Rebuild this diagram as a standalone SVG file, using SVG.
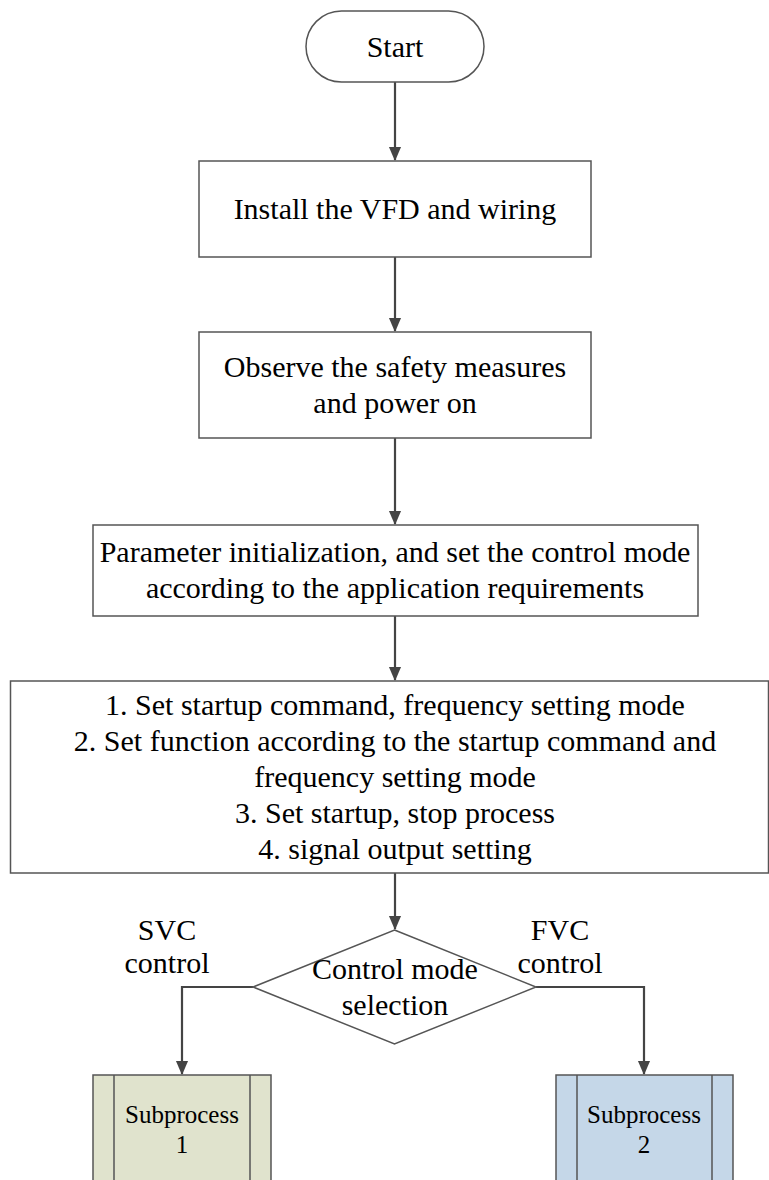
<svg xmlns="http://www.w3.org/2000/svg" width="769" height="1180" viewBox="0 0 769 1180">
  <style>
    .box { fill: #ffffff; stroke: #555555; stroke-width: 1.5; }
    .t { font-family: "Liberation Serif", "Times New Roman", serif; font-size: 30px; fill: #000000; text-anchor: middle; }
    .ts { font-family: "Liberation Serif", "Times New Roman", serif; font-size: 25px; fill: #000000; text-anchor: middle; }
    .conn { fill: none; stroke: #444444; stroke-width: 2.2; }
    .sub1 { fill: #e0e3cd; stroke: #555555; stroke-width: 1.5; }
    .sub2 { fill: #c5d7e8; stroke: #555555; stroke-width: 1.5; }
    .inner { stroke: #555555; stroke-width: 1.5; }
  </style>
  <defs>
    <marker id="arr" markerWidth="14" markerHeight="16" viewBox="0 0 16 14" refX="15" refY="7" orient="auto" markerUnits="userSpaceOnUse">
      <path d="M0,0 L16,7 L0,14 Z" fill="#444444"/>
    </marker>
  </defs>

  <g id="connectors">
    <path class="conn" d="M395,82 L395,160" marker-end="url(#arr)"/>
    <path class="conn" d="M395,257 L395,331" marker-end="url(#arr)"/>
    <path class="conn" d="M395,438 L395,524" marker-end="url(#arr)"/>
    <path class="conn" d="M395,616 L395,680" marker-end="url(#arr)"/>
    <path class="conn" d="M395,873 L395,929" marker-end="url(#arr)"/>
    <path class="conn" d="M253,987 L182,987 L182,1074" marker-end="url(#arr)"/>
    <path class="conn" d="M536,987 L644,987 L644,1074" marker-end="url(#arr)"/>
  </g>

  <g id="start">
    <rect class="box" x="306" y="11" width="178" height="71" rx="35.5" ry="35.5"/>
    <text class="t" x="395" y="57">Start</text>
  </g>

  <g id="install">
    <rect class="box" x="199" y="161" width="392" height="96"/>
    <text class="t" x="395" y="219">Install the VFD and wiring</text>
  </g>

  <g id="observe">
    <rect class="box" x="199" y="332" width="392" height="106"/>
    <text class="t" x="395" y="377">Observe the safety measures</text>
    <text class="t" x="395" y="413">and power on</text>
  </g>

  <g id="param">
    <rect class="box" x="93" y="525" width="605" height="91"/>
    <text class="t" x="395" y="562">Parameter initialization, and set the control mode</text>
    <text class="t" x="395" y="598">according to the application requirements</text>
  </g>

  <g id="settings">
    <rect class="box" x="10.5" y="681" width="758" height="192"/>
    <text class="t" x="395" y="715">1. Set startup command, frequency setting mode</text>
    <text class="t" x="395" y="751">2. Set function according to the startup command and</text>
    <text class="t" x="395" y="787">frequency setting mode</text>
    <text class="t" x="395" y="823">3. Set startup, stop process</text>
    <text class="t" x="395" y="859">4. signal output setting</text>
  </g>

  <g id="decision">
    <polygon class="box" points="394.5,930 536,987 394.5,1044 253,987"/>
    <text class="t" x="395" y="979">Control mode</text>
    <text class="t" x="395" y="1015">selection</text>
  </g>

  <g id="label-svc">
    <text class="t" x="167" y="940">SVC</text>
    <text class="t" x="167" y="973">control</text>
  </g>

  <g id="label-fvc">
    <text class="t" x="560" y="940">FVC</text>
    <text class="t" x="560" y="973">control</text>
  </g>

  <g id="subprocess1">
    <rect class="sub1" x="93" y="1075" width="178" height="120"/>
    <line class="inner" x1="114" y1="1075" x2="114" y2="1195"/>
    <line class="inner" x1="250" y1="1075" x2="250" y2="1195"/>
    <text class="ts" x="182" y="1123">Subprocess</text>
    <text class="ts" x="182" y="1153">1</text>
  </g>

  <g id="subprocess2">
    <rect class="sub2" x="556" y="1075" width="177" height="120"/>
    <line class="inner" x1="577" y1="1075" x2="577" y2="1195"/>
    <line class="inner" x1="712" y1="1075" x2="712" y2="1195"/>
    <text class="ts" x="644" y="1123">Subprocess</text>
    <text class="ts" x="644" y="1153">2</text>
  </g>
</svg>
